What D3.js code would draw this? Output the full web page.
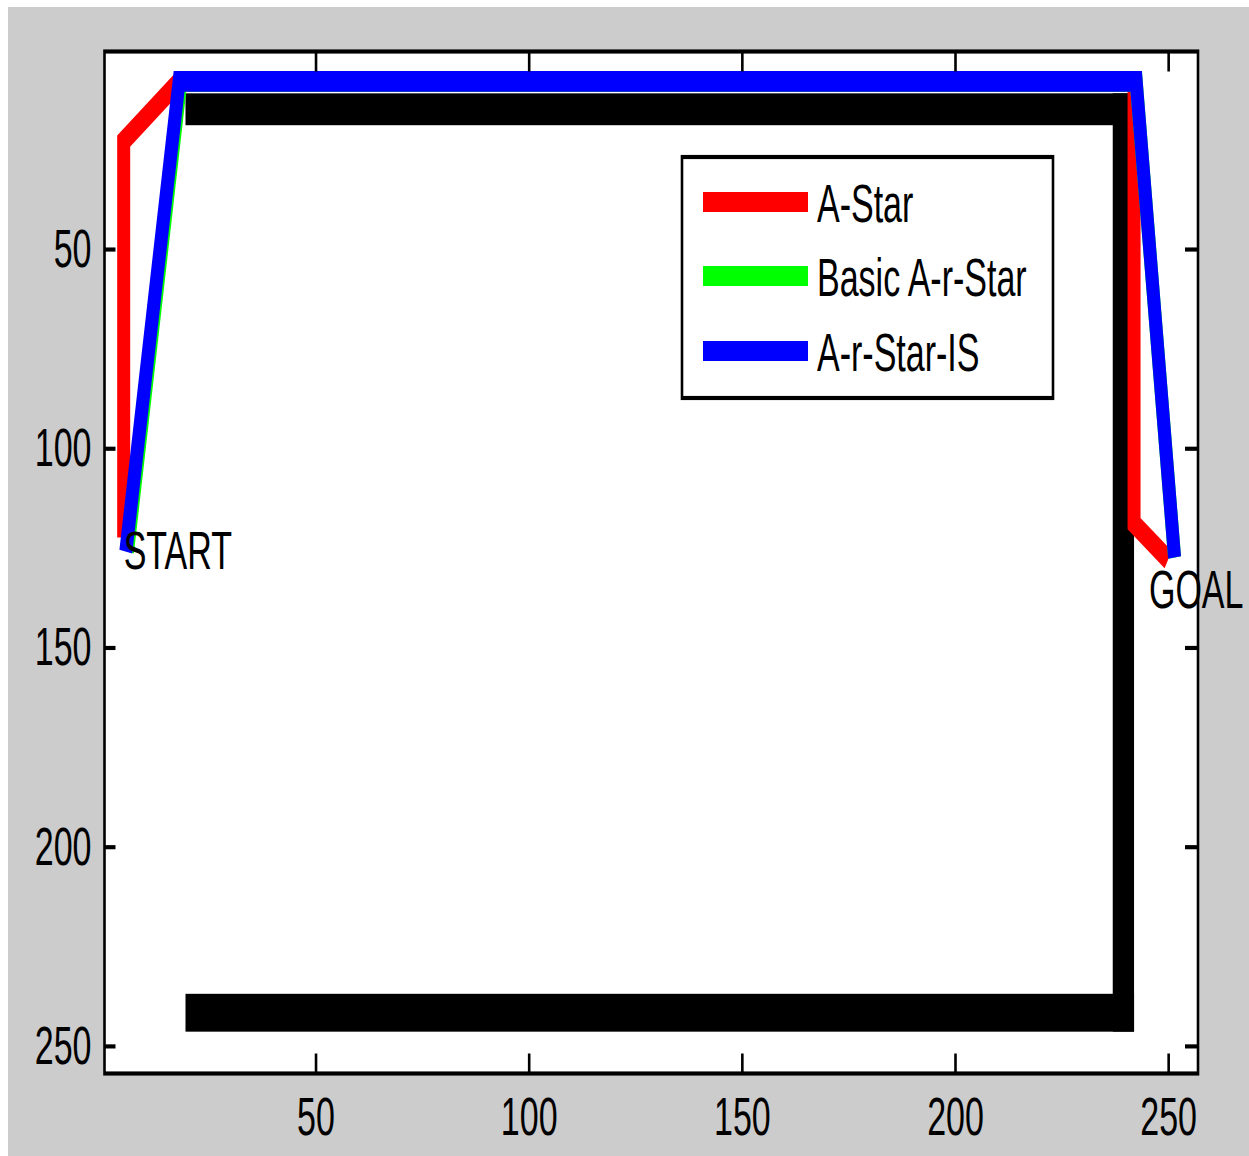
<!DOCTYPE html>
<html>
<head>
<meta charset="utf-8">
<script src="https://cdn.jsdelivr.net/npm/d3@7"></script>
<style>
  html, body { margin: 0; padding: 0; background: #ffffff; }
  svg { display: block; }
</style>
</head>
<body>
<script>
// Grid map with three planned routes (image coordinates, y grows downward)
const xTicks = [50, 100, 150, 200, 250];
const yTicks = [50, 100, 150, 200, 250];

const seriesNames = ["A-Star", "Basic A-r-Star", "A-r-Star-IS"];
const seriesColors = ["#ff0000", "#00ff00", "#0000ff"];

// Route waypoints as [column, row]
const aStarPath = [[5, 122.5], [5, 23], [18, 8], [242, 8], [242, 119], [250, 128]];
const basicArStarPath = [[5.9, 126], [18.4, 8], [242.5, 8], [251.5, 127.5]];
const arStarIsPath = [[5.5, 126], [18, 8], [242.5, 8], [251.5, 127.5]];

// Obstacle blocks as [colStart, colEnd, rowStart, rowEnd]
const obstacles = [
  [19.5, 242, 11, 19],
  [237, 242, 11, 246.5],
  [19.5, 242, 237, 246.5]
];

// Point labels
const annotations = [
  { text: "START", x: 5, y: 125.4 },
  { text: "GOAL", x: 245.5, y: 135.2 }
];

const W = 1249, H = 1156;
const K = 1.6;              // vertical stretch of the figure
const FONT = "'Liberation Sans', Arial, Helvetica, sans-serif";
const FS = 34;

const svg = d3.select("body").append("svg")
  .attr("width", W).attr("height", H);

// figure background
svg.append("rect").attr("x", 0).attr("y", 0).attr("width", W).attr("height", H).attr("fill", "#ffffff");
svg.append("rect").attr("x", 8).attr("y", 7).attr("width", W - 8).attr("height", H - 7).attr("fill", "#cccccc");

const g = svg.append("g").attr("transform", `scale(1,${K})`);

const plotLeft = 104.5, plotRight = 1198, plotTop = 51.5 / K, plotBottom = 1073.5 / K;

const x = d3.scaleLinear().domain([0.5, 257]).range([plotLeft, plotRight]);
const y = d3.scaleLinear().domain([0.5, 257]).range([plotTop, plotBottom]);

// axes background
g.append("rect").attr("x", plotLeft).attr("y", plotTop)
  .attr("width", plotRight - plotLeft).attr("height", plotBottom - plotTop).attr("fill", "#ffffff");

// obstacles
g.append("g").selectAll("rect").data(obstacles).join("rect")
  .attr("x", d => x(d[0]))
  .attr("y", d => y(d[2]))
  .attr("width", d => x(d[1]) - x(d[0]))
  .attr("height", d => y(d[3]) - y(d[2]))
  .attr("fill", "#000000");

// routes
const line = d3.line().x(d => x(d[0])).y(d => y(d[1]));
const routes = [aStarPath, basicArStarPath, arStarIsPath];
g.append("g").selectAll("path").data(routes).join("path")
  .attr("d", d => line(d))
  .attr("fill", "none")
  .attr("stroke", (d, i) => seriesColors[i])
  .attr("stroke-width", 13)
  .attr("stroke-linejoin", "miter")
  .attr("stroke-linecap", "butt");

// START / GOAL labels
g.append("g").selectAll("text").data(annotations).join("text")
  .attr("x", d => x(d.x))
  .attr("y", d => y(d.y))
  .attr("dy", "0.36em")
  .attr("font-family", FONT)
  .attr("font-size", FS)
  .attr("fill", "#000000")
  .text(d => d.text);

// legend
const legend = g.append("g");
legend.append("rect")
  .attr("x", 682).attr("y", 157 / K)
  .attr("width", 371).attr("height", 241 / K)
  .attr("fill", "#ffffff").attr("stroke", "#000000").attr("stroke-width", 2.6);
const legendRowY = [202, 276, 351];
seriesNames.forEach((name, i) => {
  legend.append("line")
    .attr("x1", 703).attr("x2", 808)
    .attr("y1", legendRowY[i] / K).attr("y2", legendRowY[i] / K)
    .attr("stroke", seriesColors[i]).attr("stroke-width", 12.5);
  legend.append("text")
    .attr("x", 817).attr("y", legendRowY[i] / K)
    .attr("dy", "0.36em")
    .attr("font-family", FONT).attr("font-size", FS)
    .attr("fill", "#000000")
    .text(name);
});

// axes: ticks point inward on all four sides
function styleAxis(sel) {
  sel.select(".domain").remove();
  sel.selectAll(".tick line").attr("stroke", "#000000").attr("stroke-width", 2.6);
  sel.selectAll(".tick text")
    .attr("font-family", FONT).attr("font-size", FS).attr("fill", "#000000");
}

g.append("g").attr("transform", `translate(0,${plotBottom})`)
  .call(d3.axisBottom(x).tickValues(xTicks).tickSizeInner(-12.5).tickSizeOuter(0).tickPadding(14.5))
  .call(styleAxis);
g.append("g").attr("transform", `translate(0,${plotTop})`)
  .call(d3.axisTop(x).tickValues(xTicks).tickSizeInner(-12.5).tickSizeOuter(0).tickFormat(""))
  .call(styleAxis);
g.append("g").attr("transform", `translate(${plotLeft},0)`)
  .call(d3.axisLeft(y).tickValues(yTicks).tickSizeInner(-11).tickSizeOuter(0).tickPadding(13))
  .call(styleAxis);
g.append("g").attr("transform", `translate(${plotRight},0)`)
  .call(d3.axisRight(y).tickValues(yTicks).tickSizeInner(-13).tickSizeOuter(0).tickFormat(""))
  .call(styleAxis);

// axes box
g.append("rect").attr("x", plotLeft).attr("y", plotTop)
  .attr("width", plotRight - plotLeft).attr("height", plotBottom - plotTop)
  .attr("fill", "none").attr("stroke", "#000000").attr("stroke-width", 2.6);
</script>
</body>
</html>
